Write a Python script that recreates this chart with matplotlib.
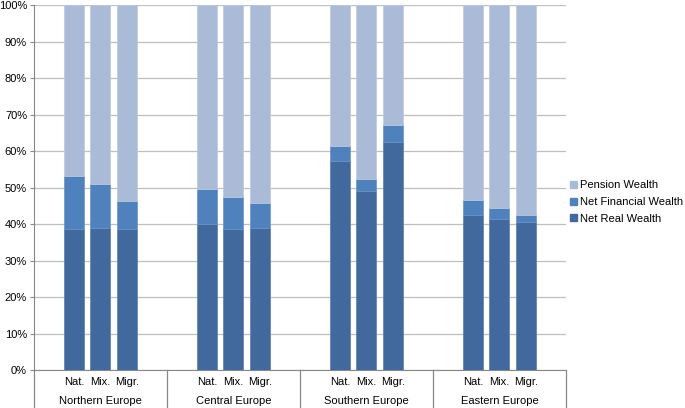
import numpy as np
import matplotlib
matplotlib.use('Agg')
import matplotlib.pyplot as plt
from matplotlib.patches import Patch

plt.rcParams['font.family'] = ['Liberation Sans', 'DejaVu Sans']

regions = ['Northern Europe', 'Central Europe', 'Southern Europe', 'Eastern Europe']
groups = ['Nat.', 'Mix.', 'Migr.']

# shares in % per region, order Nat., Mix., Migr.
net_real = [38.6, 38.9, 38.6,
            40.0, 38.6, 38.9,
            57.4, 49.0, 62.5,
            42.6, 41.4, 40.5]
net_financial = [14.6, 12.1, 7.7,
                 9.6, 8.8, 6.9,
                 4.0, 3.3, 4.6,
                 3.9, 3.0, 1.9]
pension = [100 - a - b for a, b in zip(net_real, net_financial)]

col_real = '#41699E'
col_fin = '#4F81BD'
col_pen = '#AABBD8'

# bar positions: 3 bars per region, one empty slot each side
x = np.array([5 * g + 1 + j for g in range(len(regions)) for j in range(len(groups))])
w = 0.75

fig = plt.figure(figsize=(6.85, 4.08), dpi=100)
ax = fig.add_axes([0.0496, 0.0931, 0.7766, 0.8946])

bottom2 = np.array(net_real) + np.array(net_financial)
ax.bar(x, net_real, w, color=col_real, edgecolor='#5A7FB0', linewidth=0.5, zorder=3)
ax.bar(x, net_financial, w, bottom=net_real, color=col_fin, edgecolor='#6A93C8', linewidth=0.5, zorder=3)
ax.bar(x, pension, w, bottom=bottom2, color=col_pen, edgecolor='#BCC9E2', linewidth=0.5, zorder=3)

ax.set_xlim(-0.5, 19.5)
ax.set_ylim(0, 100)
ax.set_yticks(np.arange(0, 101, 10))
ax.set_yticklabels([f'{v}%' for v in range(0, 101, 10)], fontsize=8)
ax.yaxis.grid(True, color='#BFBFBF', linewidth=0.9, zorder=0)
ax.tick_params(axis='y', length=3, color='#888888', pad=2)
ax.tick_params(axis='x', length=0)

for s in ['top', 'right']:
    ax.spines[s].set_visible(False)
ax.spines['left'].set_color('#888888')
ax.spines['bottom'].set_color('#888888')

# category labels
ax.set_xticks(x)
ax.set_xticklabels(groups * len(regions), fontsize=8)
ax.tick_params(axis='x', pad=5)

trans = ax.get_xaxis_transform()
for g, r in enumerate(regions):
    ax.text(5 * g + 2, -0.086, r, transform=trans, ha='center', va='center', fontsize=8)
for b in range(len(regions) + 1):
    ax.plot([5 * b - 0.5, 5 * b - 0.5], [0, -0.11], transform=trans, color='#888888',
            linewidth=0.9, clip_on=False)

handles = [Patch(color=col_pen, label='Pension Wealth'),
           Patch(color=col_fin, label='Net Financial Wealth'),
           Patch(color=col_real, label='Net Real Wealth')]
fig.legend(handles=handles, loc='center left', bbox_to_anchor=(0.8325, 0.505), frameon=False,
           fontsize=8, handlelength=0.6, handleheight=0.6, handletextpad=0.3, labelspacing=0.6,
           borderpad=0, borderaxespad=0)

fig.savefig('out.png', dpi=100)
